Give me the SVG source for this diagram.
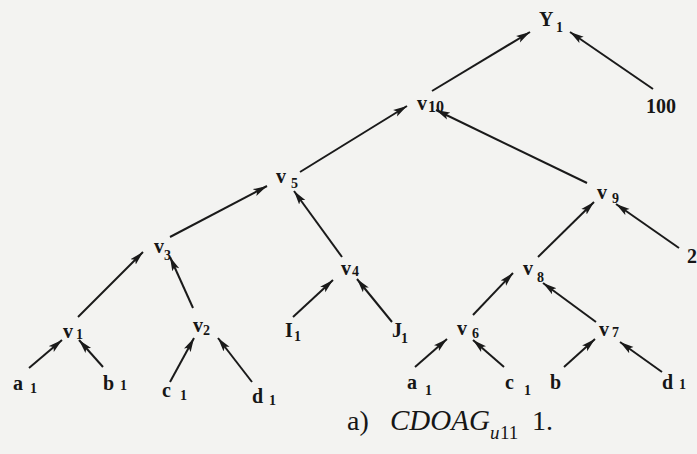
<svg xmlns="http://www.w3.org/2000/svg" width="697" height="454" viewBox="0 0 697 454">
<style>
.lb{font-family:"Liberation Serif","Times New Roman",serif;font-weight:bold;font-size:20px;fill:#161616}
.sb{font-family:"Liberation Serif","Times New Roman",serif;font-weight:bold;font-size:14px;fill:#161616}
.cap{font-family:"Liberation Serif","Times New Roman",serif;font-size:28px;fill:#161616}
.it{font-style:italic}
.ed{stroke:#1a1a1a;stroke-width:2;fill:none;marker-end:url(#ah)}
</style>
<defs>
<marker id="ah" markerUnits="userSpaceOnUse" markerWidth="15" markerHeight="9" refX="14" refY="4.5" orient="auto">
<path d="M0,0.7 L14,4.5 L0,8.3 L3,4.5 z" fill="#1a1a1a"/>
</marker>
</defs>
<rect width="697" height="454" fill="#f3f3f1"/>
<g id="connectors">
<line class="ed" x1="432" y1="91" x2="530" y2="32"/>
<line class="ed" x1="653" y1="89" x2="570" y2="32"/>
<line class="ed" x1="300" y1="172" x2="407" y2="106"/>
<line class="ed" x1="587" y1="183" x2="436" y2="110"/>
<line class="ed" x1="170" y1="237" x2="267" y2="186"/>
<line class="ed" x1="342" y1="257" x2="294" y2="191"/>
<line class="ed" x1="538" y1="257" x2="594" y2="202"/>
<line class="ed" x1="679" y1="248" x2="616" y2="204"/>
<line class="ed" x1="78" y1="317" x2="143" y2="252"/>
<line class="ed" x1="193" y1="308" x2="170" y2="257"/>
<line class="ed" x1="293" y1="317" x2="333" y2="280"/>
<line class="ed" x1="392" y1="322" x2="357" y2="279"/>
<line class="ed" x1="473" y1="315" x2="513" y2="273"/>
<line class="ed" x1="596" y1="322" x2="543" y2="283"/>
<line class="ed" x1="29" y1="368" x2="62" y2="340"/>
<line class="ed" x1="103" y1="367" x2="79" y2="340"/>
<line class="ed" x1="170" y1="382" x2="194" y2="338"/>
<line class="ed" x1="252" y1="382" x2="218" y2="338"/>
<line class="ed" x1="415" y1="367" x2="447" y2="339"/>
<line class="ed" x1="504" y1="367" x2="473" y2="340"/>
<line class="ed" x1="564" y1="367" x2="595" y2="339"/>
<line class="ed" x1="662" y1="372" x2="620" y2="342"/>
</g>
<g id="Y1"><text class="lb" x="539" y="26">Y</text><text class="sb" x="556" y="32">1</text></g>
<g id="v10"><text class="lb" x="417" y="110">v</text><text class="sb" x="428" y="112" style="font-size:16px">10</text></g>
<g id="n100"><text class="lb" x="646" y="113">100</text></g>
<g id="v5"><text class="lb" x="276" y="183">v</text><text class="sb" x="291" y="188">5</text></g>
<g id="v9"><text class="lb" x="597" y="199">v</text><text class="sb" x="612" y="203">9</text></g>
<g id="v3"><text class="lb" x="154" y="253">v</text><text class="sb" x="164" y="260">3</text></g>
<g id="v4"><text class="lb" x="341" y="275">v</text><text class="sb" x="352" y="276">4</text></g>
<g id="v8"><text class="lb" x="523" y="275">v</text><text class="sb" x="537" y="282">8</text></g>
<g id="n2"><text class="lb" x="687" y="263">2</text></g>
<g id="v1"><text class="lb" x="63" y="338">v</text><text class="sb" x="76" y="339">1</text></g>
<g id="v2"><text class="lb" x="193" y="332">v</text><text class="sb" x="203" y="335">2</text></g>
<g id="I1"><text class="lb" x="285" y="337">I</text><text class="sb" x="294" y="341">1</text></g>
<g id="J1"><text class="lb" x="392" y="337">J</text><text class="sb" x="401" y="343">1</text></g>
<g id="v6"><text class="lb" x="457" y="335">v</text><text class="sb" x="472" y="338">6</text></g>
<g id="v7"><text class="lb" x="599" y="336">v</text><text class="sb" x="612" y="337">7</text></g>
<g id="a1"><text class="lb" x="13" y="390">a</text><text class="sb" x="30" y="393">1</text></g>
<g id="b1"><text class="lb" x="103" y="390">b</text><text class="sb" x="120" y="390">1</text></g>
<g id="c1"><text class="lb" x="162" y="397">c</text><text class="sb" x="180" y="400">1</text></g>
<g id="d1"><text class="lb" x="252" y="403">d</text><text class="sb" x="269" y="405">1</text></g>
<g id="a1b"><text class="lb" x="407" y="389">a</text><text class="sb" x="425" y="395">1</text></g>
<g id="c1b"><text class="lb" x="505" y="389">c</text><text class="sb" x="524" y="395">1</text></g>
<g id="b"><text class="lb" x="550" y="389">b</text></g>
<g id="d1b"><text class="lb" x="662" y="389">d</text><text class="sb" x="679" y="389">1</text></g>
<g id="caption">
<text class="cap" x="347" y="430">a)</text>
<text class="cap it" x="390" y="430" style="font-size:29px">CDOAG</text>
<text class="cap it" x="490" y="439" style="font-size:19px">u</text>
<text class="cap" x="500" y="439" style="font-size:19px">11</text>
<text class="cap" x="532" y="430">1.</text>
</g>
</svg>
